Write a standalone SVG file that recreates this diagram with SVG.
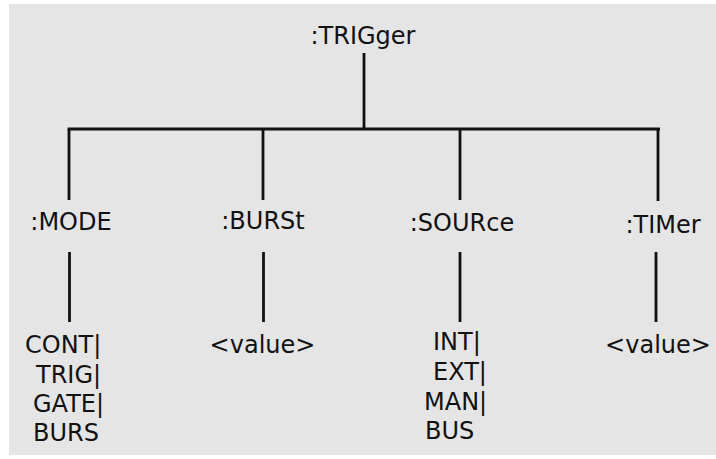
<svg xmlns="http://www.w3.org/2000/svg" width="716" height="459" viewBox="0 0 716 459">
<style>
  text { font-family: "DejaVu Sans", Verdana, sans-serif; font-size: 24px; fill: #111; }
  .c { text-anchor: middle; }
  .ln { stroke: #111; stroke-width: 2.8; fill: none; }
</style>
<rect x="0" y="0" width="716" height="459" fill="#ffffff"/>
<rect x="9" y="4" width="707" height="451" fill="#e5e5e5"/>
<g id="connectors">
  <line class="ln" x1="364" y1="53" x2="364" y2="128"/>
  <line class="ln" x1="67.6" y1="129" x2="660" y2="129"/>
  <line class="ln" x1="69" y1="129" x2="69" y2="200"/>
  <line class="ln" x1="263" y1="129" x2="263" y2="200"/>
  <line class="ln" x1="460" y1="129" x2="460" y2="200"/>
  <line class="ln" x1="658" y1="129" x2="658" y2="201"/>
  <line class="ln" x1="69.5" y1="252" x2="69.5" y2="322"/>
  <line class="ln" x1="263.5" y1="252" x2="263.5" y2="322"/>
  <line class="ln" x1="460" y1="252" x2="460" y2="322"/>
  <line class="ln" x1="656" y1="252" x2="656" y2="322"/>
</g>
<g id="trigger"><text class="c" x="363" y="44">:TRIGger</text></g>
<g id="mode"><text class="c" x="71" y="230">:MODE</text></g>
<g id="burst"><text class="c" x="263" y="229">:BURSt</text></g>
<g id="source"><text class="c" x="462" y="230.5">:SOURce</text></g>
<g id="timer"><text class="c" x="663" y="233">:TIMer</text></g>
<g id="mode-values">
  <text x="25" y="353">CONT|</text>
  <text x="36" y="383">TRIG|</text>
  <text x="33" y="412">GATE|</text>
  <text x="33" y="441">BURS</text>
</g>
<g id="burst-value"><text class="c" x="262.5" y="353">&lt;value&gt;</text></g>
<g id="source-values">
  <text x="433" y="350">INT|</text>
  <text x="433" y="380">EXT|</text>
  <text x="424" y="410">MAN|</text>
  <text x="425" y="439">BUS</text>
</g>
<g id="timer-value"><text class="c" x="658" y="353">&lt;value&gt;</text></g>
</svg>
